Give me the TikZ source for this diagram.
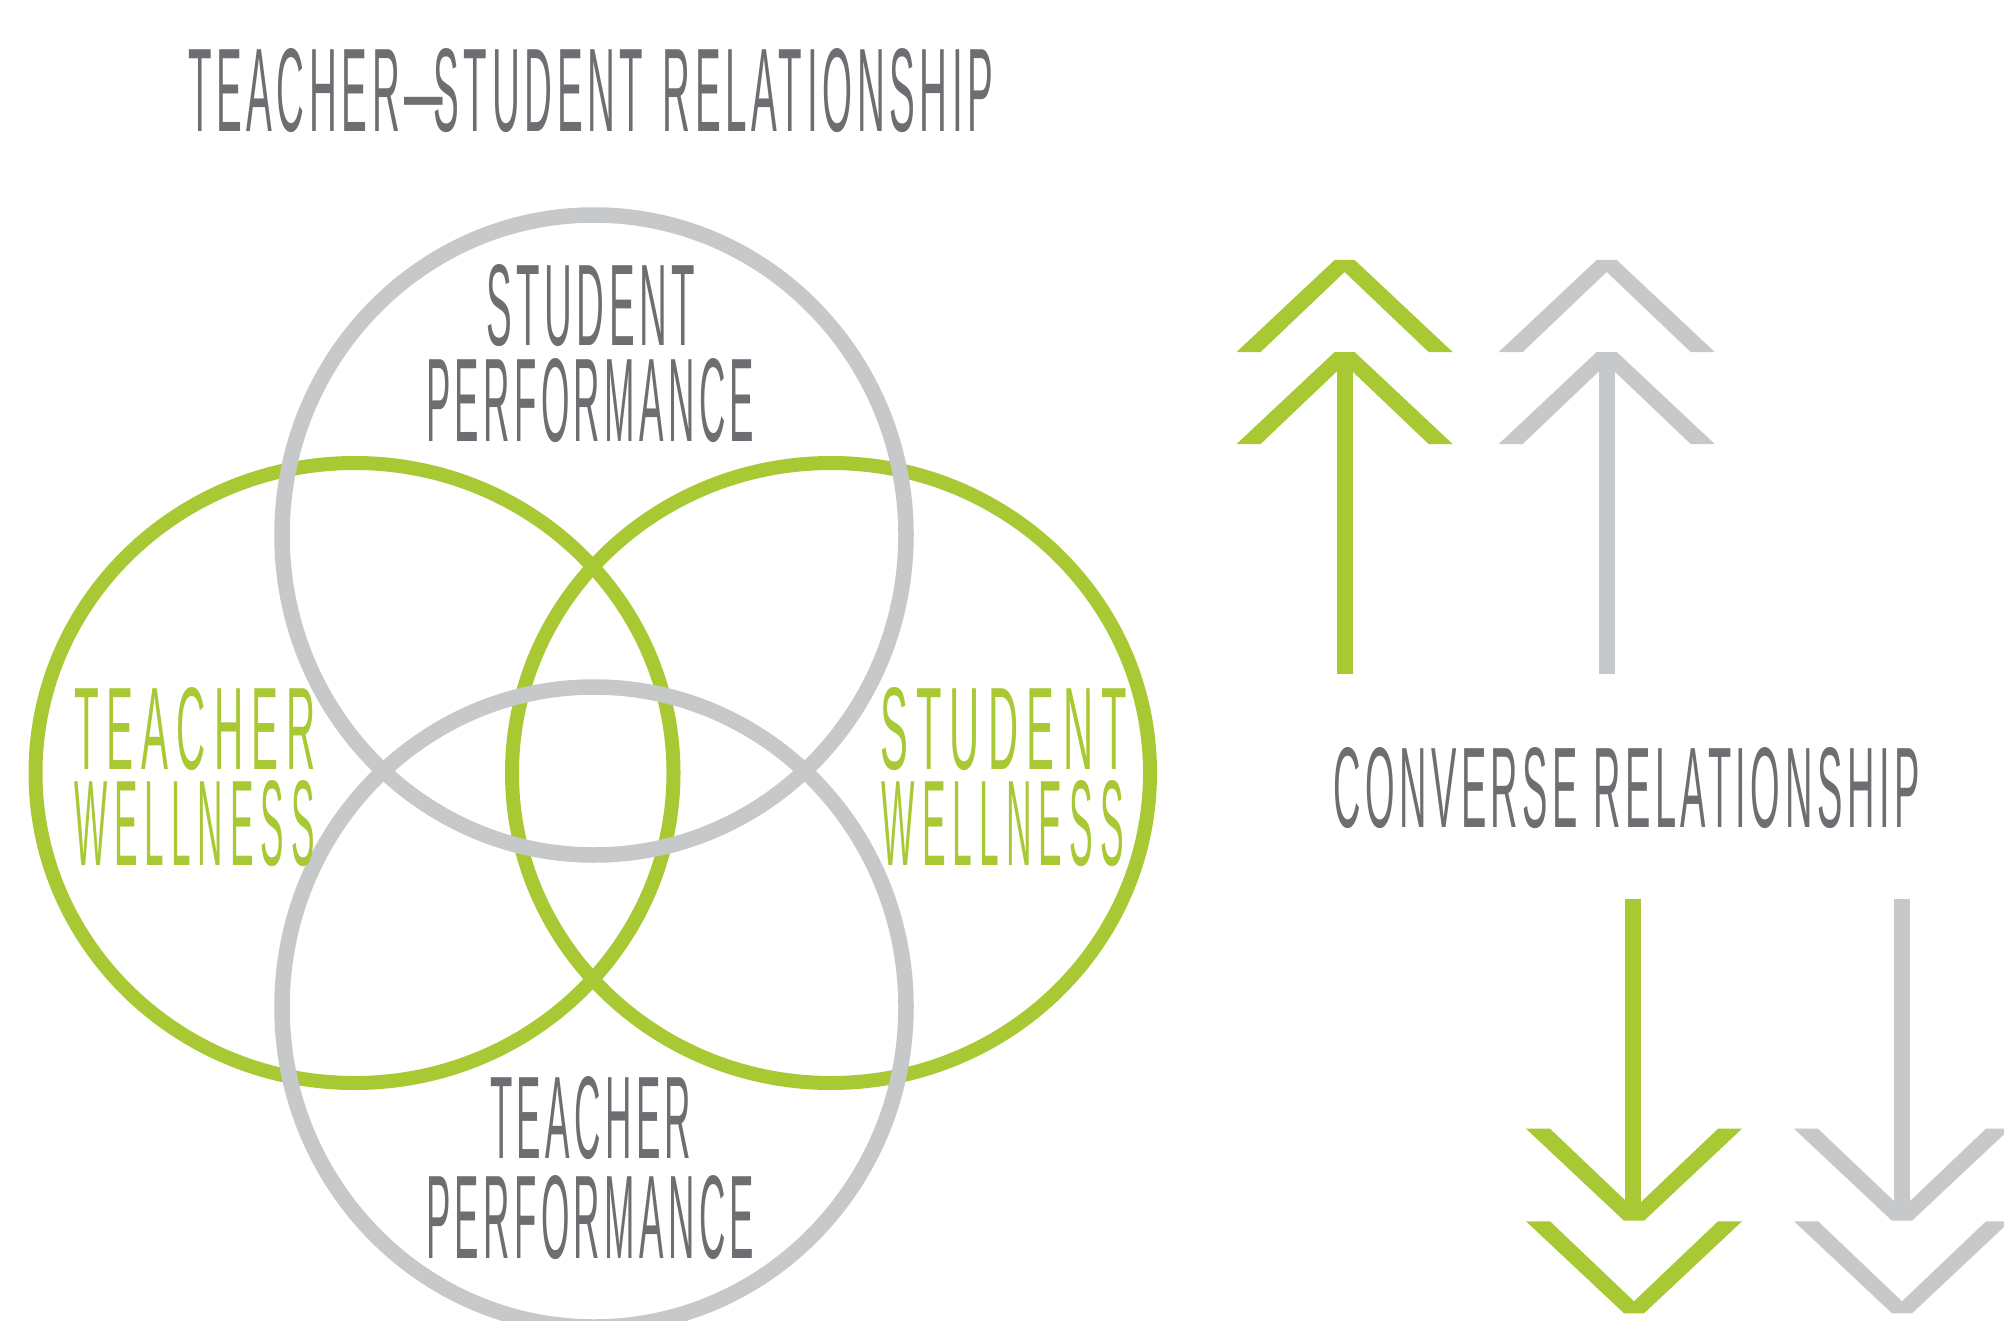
\documentclass[tikz,border=0pt]{standalone}
\usepackage{fontspec}
\usepackage{graphicx}
\newfontfamily\handg[LetterSpace=12]{Liberation Sans}
\newfontfamily\handw[LetterSpace=20]{Liberation Sans}
\definecolor{vgreen}{RGB}{168,200,52}
\definecolor{vlgray}{RGB}{199,200,202}
\definecolor{vtext}{RGB}{109,110,113}
\newcommand\fitlbl[4]{\resizebox{#1pt}{#2pt}{#3\fontsize{100pt}{100pt}\selectfont #4}}
\newcommand\upchev[3]{\fill[#3] ({#1-108},{#2+92}) -- ({#1-10},#2) -- ({#1+10},#2) -- ({#1+108},{#2+92}) -- ({#1+84},{#2+92}) -- (#1,{#2+12}) -- ({#1-84},{#2+92}) -- cycle;}
\newcommand\downchev[3]{\fill[#3] ({#1-108},{#2-92}) -- ({#1-10},#2) -- ({#1+10},#2) -- ({#1+108},{#2-92}) -- ({#1+84},{#2-92}) -- (#1,{#2-12}) -- ({#1-84},{#2-92}) -- cycle;}
\begin{document}
\begin{tikzpicture}[x=1pt,y=-1pt,
  lbl/.style={anchor=base west, inner sep=0pt, outer sep=0pt},
  lbltwo/.style={anchor=north west, inner sep=0pt, outer sep=0pt},
  greenring/.style={draw=vgreen, line width=14pt},
  grayring/.style={draw=vlgray, line width=15.5pt}]
\useasboundingbox (0,0) rectangle (2004,1321);
\clip (0,0) rectangle (2004,1321);
\fill[white] (0,0) rectangle (2004,1321);
% rings: green below, gray on top
\draw[greenring] (354.5,773) ellipse [x radius=319, y radius=310];
\draw[greenring] (831,773) ellipse [x radius=319, y radius=310];
\draw[grayring] (594,535) ellipse [x radius=312, y radius=320];
\draw[grayring] (594,1007) ellipse [x radius=312, y radius=320];
% labels
\node[lbl, text=vtext] (title) at (188,132) {\fitlbl{805.5}{83}{\handg}{TEACHER—\kern-0.25em STUDENT\kern0.1em{} RELATIONSHIP}};
\node[lbltwo, text=vtext] (sperf) at (426,264) {\vbox{\baselineskip=96pt\lineskiplimit=-1000pt
  \hbox{\kern60pt\fitlbl{209.5}{81}{\handg}{STUDENT}}
  \hbox{\fitlbl{328.3}{83}{\handg}{PERFORMANCE}}}};
\node[lbltwo, text=vtext] (tperf) at (426,1076) {\vbox{\baselineskip=100pt\lineskiplimit=-1000pt
  \hbox{\kern64pt\fitlbl{201.3}{82}{\handg}{TEACHER}}
  \hbox{\fitlbl{328.3}{83}{\handg}{PERFORMANCE}}}};
\node[lbltwo, text=vgreen] (twell) at (74,687) {\vbox{\baselineskip=96pt\lineskiplimit=-1000pt
  \hbox{\fitlbl{241.8}{82}{\handw}{TEACHER}}
  \hbox{\fitlbl{240.8}{85}{\handw}{WELLNESS}}}};
\node[lbltwo, text=vgreen] (swell) at (880,687) {\vbox{\baselineskip=96pt\lineskiplimit=-1000pt
  \hbox{\fitlbl{247}{82}{\handw}{STUDENT}}
  \hbox{\kern1.6pt\fitlbl{242.3}{85}{\handw}{WELLNESS}}}};
\node[lbl, text=vtext] (conv) at (1333,827) {\fitlbl{586.5}{80}{\handg}{CONVERSE RELATIONSHIP}};
% up arrows
\upchev{1344.6}{260}{vgreen}
\upchev{1344.6}{352}{vgreen}
\fill[vgreen] (1336.5,360) rectangle (1352.5,674);
\upchev{1606.7}{260}{vlgray}
\upchev{1606.7}{352}{vlgray}
\fill[vlgray] (1598.7,360) rectangle (1614.7,674);
% down arrows
\fill[vgreen] (1625,898.7) rectangle (1641,1212);
\downchev{1634}{1220.7}{vgreen}
\downchev{1634}{1313.3}{vgreen}
\fill[vlgray] (1894,898.7) rectangle (1910,1212);
\downchev{1902}{1220.7}{vlgray}
\downchev{1902}{1313.3}{vlgray}
\end{tikzpicture}
\end{document}
